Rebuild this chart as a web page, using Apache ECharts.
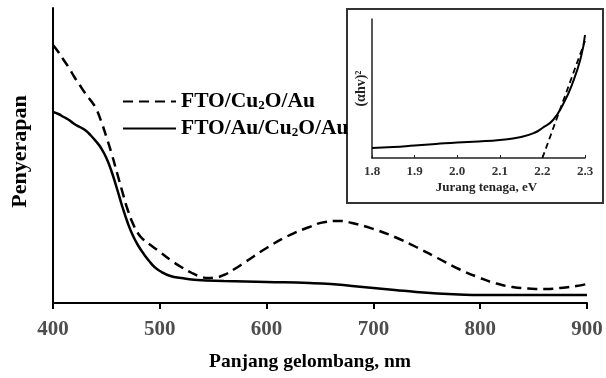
<!DOCTYPE html>
<html>
<head>
<meta charset="utf-8">
<script src="https://cdn.jsdelivr.net/npm/echarts@6/dist/echarts.min.js"></script>
<style>
  html, body { margin: 0; padding: 0; background: #fff; }
  #chart { width: 606px; height: 378px; }
</style>
</head>
<body>
<div id="chart"></div>
<script>
// main spectrum (absorbance, arbitrary units)
const wlDashed = [400, 405, 410, 415, 420, 425, 430, 435, 440, 445, 450, 455, 460, 465, 470, 475, 480, 485, 490, 495, 500, 510, 520, 530, 538, 545, 552, 560, 570, 580, 600, 620, 640, 655, 668, 680, 700, 720, 740, 760, 780, 800, 815, 830, 845, 860, 875, 890, 900]
const absCu2OAu = [258, 251, 243, 235, 226, 218, 210, 203, 195, 182, 166, 149, 130, 111, 93, 79, 69, 63, 59, 55, 51, 43, 36, 30, 26.5, 25, 25.5, 28, 34, 41, 55, 67, 76, 81, 82, 80, 74, 66, 56, 45, 34, 25, 19.5, 16, 14.5, 14, 15, 17, 19]
const wlSolid = [400, 405, 410, 415, 420, 425, 430, 435, 440, 445, 450, 455, 460, 465, 470, 475, 480, 485, 490, 495, 500, 510, 520, 535, 560, 600, 640, 660, 680, 700, 720, 740, 760, 780, 800, 850, 900]
const absAuCu2OAu = [191, 189, 186, 183, 179, 176, 173, 168, 162, 155, 145, 131, 114, 96, 80, 67, 57, 49, 42, 36, 32, 27, 25, 23, 22, 21, 20, 19, 17, 15, 13, 11, 9.5, 8.5, 8, 8, 8]
const wlTicks = [400, 500, 600, 700, 800, 900]

// inset: Tauc plot
const energy = [1.8, 1.85, 1.9, 1.95, 2.0, 2.05, 2.1, 2.15, 2.18, 2.2, 2.225, 2.25, 2.27, 2.29, 2.3]
const tauc = [10, 11, 12.5, 14, 15.5, 16.5, 18, 21, 25, 30, 38, 55, 74, 100, 123]
const tangentX = [2.2, 2.3]
const tangentY = [0, 117]

const pairs = (xs, ys) => xs.map((x, i) => [x, ys[i]])
const serif = 'Liberation Serif'

const chart = echarts.init(document.getElementById('chart'))
chart.setOption({
  animation: false,
  backgroundColor: '#fff',
  grid: [
    { left: 53, right: 19, top: 8, bottom: 75 },
    { left: 372, right: 21, top: 19, bottom: 220 }
  ],
  legend: {
    data: ['FTO/Cu2O/Au', 'FTO/Au/Cu2O/Au'],
    orient: 'vertical',
    left: 117,
    top: 85,
    itemWidth: 53,
    itemHeight: 12,
    itemGap: 5,
    itemStyle: { opacity: 0 },
    formatter: (name) => '{b|' + name.replace('Cu2O', 'Cu}{s|2}{b|O') + '}',
    textStyle: {
      rich: {
        b: { fontFamily: serif, fontWeight: 'bold', fontSize: 21.5, color: '#000', lineHeight: 21, verticalAlign: 'bottom' },
        s: { fontFamily: serif, fontWeight: 'bold', fontSize: 13, color: '#000', lineHeight: 13, verticalAlign: 'bottom' }
      }
    }
  },
  graphic: [
    {
      type: 'rect',
      shape: { x: 347, y: 9, width: 256, height: 194 },
      style: { fill: 'none', stroke: '#333', lineWidth: 2 }
    }
  ],
  xAxis: [
    {
      gridIndex: 0,
      type: 'value',
      min: 400,
      max: 900,
      interval: 100,
      name: 'Panjang gelombang, nm',
      nameLocation: 'middle',
      nameGap: 49,
      nameTextStyle: { fontFamily: serif, fontWeight: 'bold', fontSize: 19.5, color: '#000', padding: [0, 20, 0, 0] },
      axisLine: { lineStyle: { color: '#000', width: 2 } },
      axisTick: { length: 6, lineStyle: { color: '#000', width: 2 } },
      axisLabel: { margin: 16, fontFamily: serif, fontWeight: 'bold', fontSize: 21, color: '#4d4d4d' },
      splitLine: { show: false }
    },
    {
      gridIndex: 1,
      type: 'value',
      min: 1.8,
      max: 2.3,
      interval: 0.1,
      name: 'Jurang tenaga, eV',
      nameLocation: 'middle',
      nameGap: 23,
      nameTextStyle: { fontFamily: serif, fontWeight: 'bold', fontSize: 13, color: '#222', padding: [0, 0, 0, 16] },
      axisLine: { lineStyle: { color: '#222', width: 1.5 } },
      axisTick: { inside: true, length: 3, lineStyle: { color: '#222' } },
      axisLabel: { margin: 7, fontFamily: serif, fontWeight: 'bold', fontSize: 13, color: '#333', formatter: (v) => v.toFixed(1) },
      splitLine: { show: false }
    }
  ],
  yAxis: [
    {
      gridIndex: 0,
      type: 'value',
      min: 0,
      max: 295,
      name: 'Penyerapan',
      nameLocation: 'middle',
      nameGap: 22,
      nameTextStyle: { fontFamily: serif, fontWeight: 'bold', fontSize: 22, color: '#000', padding: [0, 0, 0, 8] },
      axisLine: { show: true, lineStyle: { color: '#000', width: 2 } },
      axisTick: { show: false },
      axisLabel: { show: false },
      splitLine: { show: false }
    },
    {
      gridIndex: 1,
      type: 'value',
      min: 0,
      max: 139,
      name: '(αhv)²',
      nameLocation: 'middle',
      nameGap: 4,
      nameTextStyle: { fontFamily: serif, fontWeight: 'bold', fontSize: 14, color: '#222' },
      axisLine: { show: true, lineStyle: { color: '#222', width: 1.5 } },
      axisTick: { show: false },
      axisLabel: { show: false },
      splitLine: { show: false }
    }
  ],
  series: [
    {
      name: 'FTO/Cu2O/Au',
      type: 'line',
      xAxisIndex: 0,
      yAxisIndex: 0,
      data: pairs(wlDashed, absCu2OAu),
      smooth: true,
      symbol: 'none',
      lineStyle: { color: '#000', width: 2.5, type: [10, 6] },
      itemStyle: { color: '#000' }
    },
    {
      name: 'FTO/Au/Cu2O/Au',
      type: 'line',
      xAxisIndex: 0,
      yAxisIndex: 0,
      data: pairs(wlSolid, absAuCu2OAu),
      smooth: true,
      symbol: 'none',
      lineStyle: { color: '#000', width: 2.5 },
      itemStyle: { color: '#000' }
    },
    {
      name: 'tauc',
      type: 'line',
      xAxisIndex: 1,
      yAxisIndex: 1,
      data: pairs(energy, tauc),
      smooth: true,
      symbol: 'none',
      lineStyle: { color: '#000', width: 2 }
    },
    {
      name: 'tangent',
      type: 'line',
      xAxisIndex: 1,
      yAxisIndex: 1,
      data: pairs(tangentX, tangentY),
      symbol: 'none',
      lineStyle: { color: '#000', width: 1.8, type: [6, 4] }
    }
  ]
})
</script>
</body>
</html>
